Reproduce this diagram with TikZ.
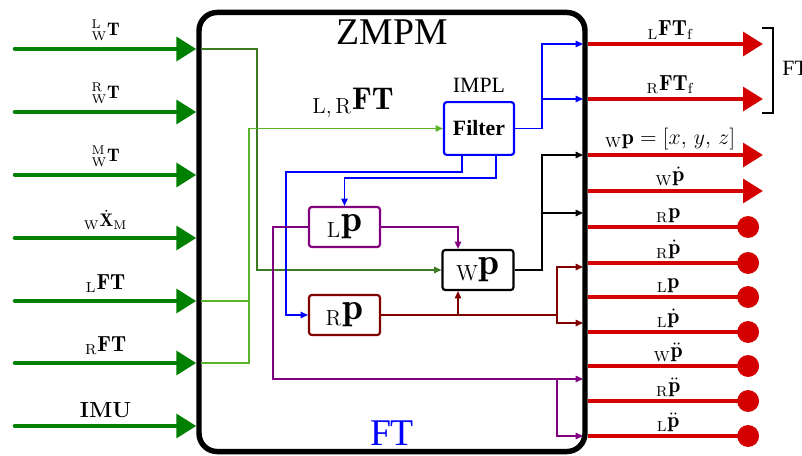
\documentclass[tikz,border=0pt]{standalone}
\usepackage{amsmath}
\usepackage{fontspec}
\newfontfamily\timesfont{Liberation Serif}
\usetikzlibrary{arrows.meta,calc,positioning}
\definecolor{girisYesil}{HTML}{008000}
\definecolor{cikisKirmizi}{HTML}{D40000}
\definecolor{koyuYesil}{HTML}{3C7A24}
\definecolor{acikYesil}{HTML}{5AB52A}
\definecolor{mavi}{HTML}{0000FF}
\definecolor{mor}{HTML}{800080}
\definecolor{bordo}{HTML}{800000}

\begin{document}
\begin{tikzpicture}[x=0.55pt,y=-0.55pt,
  inArrow/.style={line width=2.5pt,girisYesil,line cap=round,-{Triangle[length=11pt,width=13pt]}},
  outArrow/.style={line width=2.3pt,cikisKirmizi,-{Triangle[length=11pt,width=13pt]}},
  outDot/.style={line width=2.3pt,cikisKirmizi,-{Circle[length=12pt]}},
  wire/.style={line width=0.8pt,-{Triangle[length=4pt,width=3.5pt]}},
  blok/.style={draw=#1,line width=1.2pt,rounded corners=1.5pt,minimum width=39pt,minimum height=22pt,inner sep=0pt,font=\huge}]
\useasboundingbox (0,0) rectangle (802,456);
\node[draw,line width=3pt,rounded corners=10pt,minimum width=212.3pt,minimum height=241.5pt] (zmpm) at (392,232) {};
\node[font=\timesfont\huge] (baslik) at (392,32) {ZMPM};
\node[font=\timesfont\huge,mavi] (ftAlt) at (392,433) {FT};
% girisler
\foreach \i/\y/\t in {1/49/{\normalsize$^{\mathrm L}_{\mathrm W}\mathbf{T}$},2/112/{\normalsize$^{\mathrm R}_{\mathrm W}\mathbf{T}$},3/175/{\normalsize$^{\mathrm M}_{\mathrm W}\mathbf{T}$},4/238/{\normalsize$_{\mathrm W}\dot{\mathbf X}_{\mathrm M}$},5/301/{\large$_{\mathrm L}\mathbf{FT}$},6/363/{\large$_{\mathrm R}\mathbf{FT}$},7/426/{\large\textbf{IMU}}}{
  \coordinate (in\i) at (15,\y);
  \draw[inArrow] (in\i) -- (zmpm.west |- in\i) node[midway,above,text=black] (inLabel\i) {\t};
}
% cikislar
\foreach \i/\y/\t in {1/44/{$_{\mathrm L}\mathbf{FT}_{\mathrm f}$},2/99/{$_{\mathrm R}\mathbf{FT}_{\mathrm f}$},3/155/{$_{\mathrm W}\mathbf{p}=[x,\,y,\,z]$},4/191/{$_{\mathrm W}\dot{\mathbf p}$}}{
  \coordinate (out\i) at (763,\y);
  \draw[outArrow] (zmpm.east |- out\i) -- (out\i) node[pos=0.47,above,font=\large,text=black,inner sep=1.5pt] (outLabel\i) {\t};
}
\foreach \i/\y/\t in {5/227/{$_{\mathrm R}\mathbf p$},6/263/{$_{\mathrm R}\dot{\mathbf p}$},7/297/{$_{\mathrm L}\mathbf p$},8/332/{$_{\mathrm L}\dot{\mathbf p}$},9/366/{$_{\mathrm W}\ddot{\mathbf p}$},10/401/{$_{\mathrm R}\ddot{\mathbf p}$},11/436/{$_{\mathrm L}\ddot{\mathbf p}$}}{
  \coordinate (out\i) at (759,\y);
  \draw[outDot] (zmpm.east |- out\i) -- (out\i) node[pos=0.47,above,font=\large,text=black,inner sep=1pt] (outLabel\i) {\t};
}
\draw[line width=1.5pt] (762,28) -| (773,113) -- (762,113);
\node[font=\timesfont\large,anchor=west] (ftSag) at (776,68) {FT};
% ic baglanti noktalari
\foreach \i/\y in {1/49,5/301,6/363} \coordinate (lport\i) at (201,\y);
\foreach \i/\y in {1/44,2/99,3/155,4/213,5/267,6/323,7/379,8/436} \coordinate (port\i) at (583,\y);
% bloklar
\node[blok=mavi,minimum width=38.5pt,minimum height=29pt,font=\timesfont\large\bfseries] (filter) at (479,128.5) {Filter};
\node[font=\timesfont\large,above=1pt of filter] (impl) {IMPL};
\node[blok=mor] (lp) at (344.5,227) {$_{\scriptscriptstyle\mathrm{L}}\mathbf{p}$};
\node[blok=black] (wp) at (478,270) {$_{\scriptscriptstyle\mathrm{W}}\mathbf{p}$};
\node[blok=bordo] (rp) at (344.5,315) {$_{\scriptscriptstyle\mathrm{R}}\mathbf{p}$};
\node[font=\LARGE] (lrft) at (353,103) {${}_{\mathrm{L},\,\mathrm{R}}\mathbf{FT}$};
% baglantilar
\draw[wire,koyuYesil] (lport1) -- (257,49) |- (wp.west);
\draw[wire,acikYesil] (lport5) -- (249,301) |- (filter.west);
\draw[line width=0.8pt,acikYesil] (lport6) -| (249,301);
\draw[wire,mavi] (filter.east) -- (542,128.5) |- (port1);
\draw[wire,mavi] (542,99) -- (port2);
\draw[wire,mavi] ($(filter.south)+(-17,0)$) |- (286,172) |- (rp.west);
\draw[wire,mavi] ($(filter.south)+(17,0)$) |- (344.5,178) -- (lp.north);
\draw[wire,mor] (lp.east) -| ($(wp.north)+(-20,0)$);
\draw[wire,mor] (lp.west) -- (273,227) |- (port7);
\draw[wire,mor] (557,379) |- (port8);
\draw[wire,black] (wp.east) -- (542,270) |- (port3);
\draw[wire,black] (542,213) -- (port4);
\draw[wire,bordo] (rp.east) -- (557,315) |- (port5);
\draw[wire,bordo] (557,315) |- (port6);
\draw[wire,bordo] ($(wp.south)+(-20,25)$) -- ($(wp.south)+(-20,0)$);
\end{tikzpicture}
\end{document}
